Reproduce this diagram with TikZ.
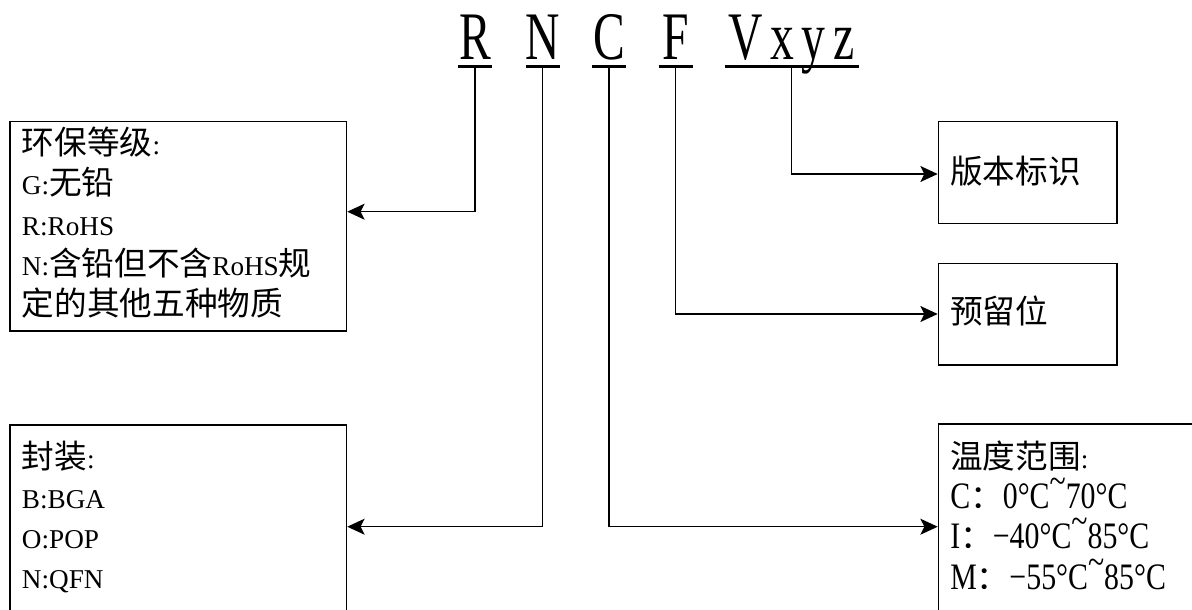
\documentclass[tikz,border=0pt]{standalone}
\usepackage{fontspec}
\setmainfont{Liberation Serif}
\newfontfamily\cjk{Noto Sans CJK SC}[Scale=1.2]
\newfontfamily\codefont{Liberation Serif}[FakeStretch=0.7]
\newfontfamily\tempfont{Liberation Serif}[FakeStretch=0.8]
\usetikzlibrary{arrows.meta}

\newcommand{\degc}{\textdegree C}
\newcommand{\tld}{\raisebox{.4em}{\textasciitilde}}
\newcommand{\trow}[2]{{\fontsize{28pt}{30.2pt}\tempfont #1{\fontsize{20.4pt}{30.2pt}\cjk ：}#2}}

\begin{document}
\begin{tikzpicture}[x=0.75pt,y=-0.75pt,
    every node/.style={inner sep=0pt},
    code/.style={font={\fontsize{51pt}{55pt}\codefont}, anchor=base},
    uline/.style={line width=2pt},
    box/.style={draw, line width=1.2pt, anchor=north west},
    boxtext/.style={font={\fontsize{20.4pt}{30.2pt}\selectfont}, align=left, anchor=base west},
    link/.style={line width=1pt, -{Stealth[length=13pt,width=12pt,inset=3pt]}}]
  \useasboundingbox (0,0) rectangle (1192,610);
  \clip (0,0) rectangle (1192,610);

  \node[code] (uR) at (475,60) {R};
  \node[code] (uN) at (542.5,60) {N};
  \node[code] (uC) at (609,60) {C};
  \node[code] (uF) at (675.5,60) {F};
  \node[code] (uV) at (791.5,60) {V\kern5.8pt x\kern5.8pt y\kern5.8pt z};
  \foreach \n/\w in {uR/17,uN/17,uC/17,uF/17,uV/67}
    \draw[uline] ([yshift=-5pt]\n.base) ++(-\w,0) -- ++(2*\w,0);

  \node[box, minimum width=252.5pt, minimum height=157pt] (eco) at (9,120.7) {};
  \node[boxtext] (ecotxt) at (21.7,315.6) {{\cjk 环保等级}:\\
    G:{\cjk 无铅}\\
    R:RoHS\\
    N:{\cjk 含铅但不含}RoHS{\cjk 规}\\
    {\cjk 定的其他五种物质}};

  \node[box, minimum width=252.5pt, minimum height=144pt] (pkg) at (9,424) {};
  \node[boxtext] (pkgtxt) at (21.7,588.8) {{\cjk 封装}:\\ B:BGA\\ O:POP\\ N:QFN};

  \node[box, minimum width=133.7pt, minimum height=76.5pt] (ver) at (937.7,120.7) {};
  \node[boxtext] (vertxt) at (950,183) {\cjk 版本标识};

  \node[box, minimum width=133.7pt, minimum height=76pt] (rsv) at (937.7,262.7) {};
  \node[boxtext] (rsvtxt) at (950,323) {\cjk 预留位};

  \node[box, minimum width=300pt, minimum height=144.5pt] (tmp) at (937.7,423.3) {};
  \node[boxtext] (tmptxt) at (950,589) {{\cjk 温度范围}:\\
    \trow{C}{0\degc\tld70\degc}\\
    \trow{I}{−40\degc\tld85\degc}\\
    \trow{M}{−55\degc\tld85\degc}};

  \coordinate (yR) at (0,211.7);
  \coordinate (yN) at (0,526.7);
  \coordinate (yF) at (0,314);
  \coordinate (yV) at (0,174);
  \draw[link] ([yshift=-5pt]uR.base) |- (eco.east |- yR);
  \draw[link] ([yshift=-5pt]uN.base) |- (pkg.east |- yN);
  \draw[link] ([yshift=-5pt]uC.base) |- (tmp.west |- yN);
  \draw[link] ([yshift=-5pt]uF.base) |- (rsv.west |- yF);
  \draw[link] ([yshift=-5pt]uV.base) |- (ver.west |- yV);
\end{tikzpicture}
\end{document}
